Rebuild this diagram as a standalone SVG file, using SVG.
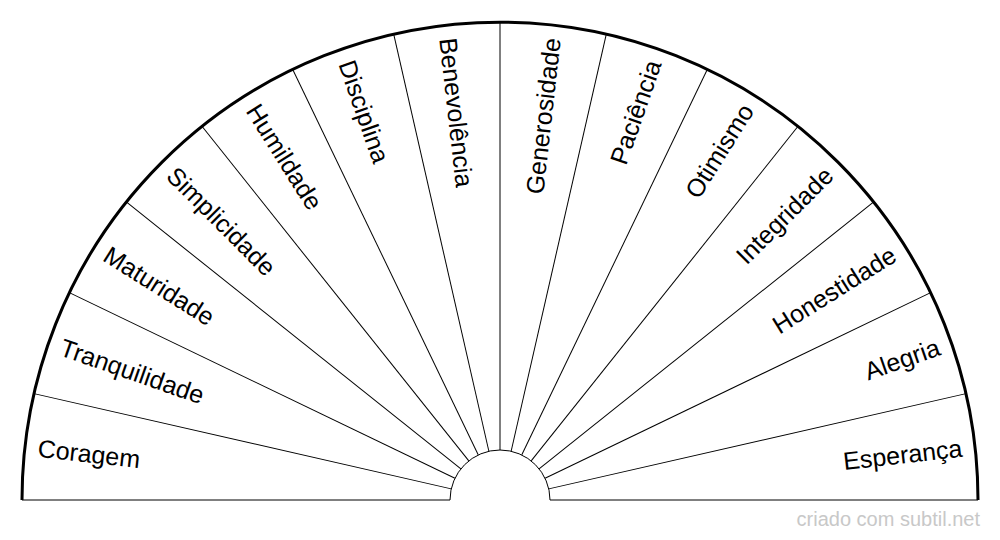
<svg xmlns="http://www.w3.org/2000/svg" width="1000" height="540" viewBox="0 0 1000 540">
  <style>
    .lbl { font-family: "Liberation Sans", Arial, sans-serif; font-size: 25px; fill: #000; }
    .l { text-anchor: start; }
    .r { text-anchor: end; }
    .div { stroke: #000; stroke-width: 1; fill: none; }
    .rim { stroke: #000; stroke-width: 3; fill: #fff; }
    .hub { stroke: #000; stroke-width: 1; fill: #fff; }
    .mark { font-family: "Liberation Sans", Arial, sans-serif; font-size: 20px; fill: #c8c8c8; text-anchor: end; }
  </style>
  <defs>
    <line id="ray" x1="450" y1="500" x2="22" y2="500"/>
  </defs>
  <rect width="1000" height="540" fill="#fff"/>
  <path class="rim" d="M 22 500 A 478 478 0 0 1 978 500"/>
  <g id="dividers" class="div">
    <line x1="22" y1="500" x2="450" y2="500"/>
    <line x1="550" y1="500" x2="978" y2="500"/>
    <use href="#ray" transform="rotate(12.857143 500 500)"/>
    <use href="#ray" transform="rotate(25.714286 500 500)"/>
    <use href="#ray" transform="rotate(38.571429 500 500)"/>
    <use href="#ray" transform="rotate(51.428571 500 500)"/>
    <use href="#ray" transform="rotate(64.285714 500 500)"/>
    <use href="#ray" transform="rotate(77.142857 500 500)"/>
    <use href="#ray" transform="rotate(90 500 500)"/>
    <use href="#ray" transform="rotate(102.857143 500 500)"/>
    <use href="#ray" transform="rotate(115.714286 500 500)"/>
    <use href="#ray" transform="rotate(128.571429 500 500)"/>
    <use href="#ray" transform="rotate(141.428571 500 500)"/>
    <use href="#ray" transform="rotate(154.285714 500 500)"/>
    <use href="#ray" transform="rotate(167.142857 500 500)"/>
  </g>
  <path class="hub" d="M 450 500 A 50 50 0 0 1 550 500"/>
  <g id="coragem"><text class="lbl l" x="35" y="500" dy="0.35em" transform="rotate(6.428571 500 500)">Coragem</text></g>
  <g id="tranquilidade"><text class="lbl l" x="35" y="500" dy="0.35em" transform="rotate(19.285714 500 500)">Tranquilidade</text></g>
  <g id="maturidade"><text class="lbl l" x="35" y="500" dy="0.35em" transform="rotate(32.142857 500 500)">Maturidade</text></g>
  <g id="simplicidade"><text class="lbl l" x="35" y="500" dy="0.35em" transform="rotate(45 500 500)">Simplicidade</text></g>
  <g id="humildade"><text class="lbl l" x="35" y="500" dy="0.35em" transform="rotate(57.857143 500 500)">Humildade</text></g>
  <g id="disciplina"><text class="lbl l" x="35" y="500" dy="0.35em" transform="rotate(70.714286 500 500)">Disciplina</text></g>
  <g id="benevolencia"><text class="lbl l" x="35" y="500" dy="0.35em" transform="rotate(83.571429 500 500)">Benevolência</text></g>
  <g id="generosidade"><text class="lbl r" x="965" y="500" dy="0.35em" transform="rotate(-83.571429 500 500)">Generosidade</text></g>
  <g id="paciencia"><text class="lbl r" x="965" y="500" dy="0.35em" transform="rotate(-70.714286 500 500)">Paciência</text></g>
  <g id="otimismo"><text class="lbl r" x="965" y="500" dy="0.35em" transform="rotate(-57.857143 500 500)">Otimismo</text></g>
  <g id="integridade"><text class="lbl r" x="965" y="500" dy="0.35em" transform="rotate(-45 500 500)">Integridade</text></g>
  <g id="honestidade"><text class="lbl r" x="965" y="500" dy="0.35em" transform="rotate(-32.142857 500 500)">Honestidade</text></g>
  <g id="alegria"><text class="lbl r" x="965" y="500" dy="0.35em" transform="rotate(-19.285714 500 500)">Alegria</text></g>
  <g id="esperanca"><text class="lbl r" x="965" y="500" dy="0.35em" transform="rotate(-6.428571 500 500)">Esperança</text></g>
  <text class="mark" x="980" y="526">criado com subtil.net</text>
</svg>
